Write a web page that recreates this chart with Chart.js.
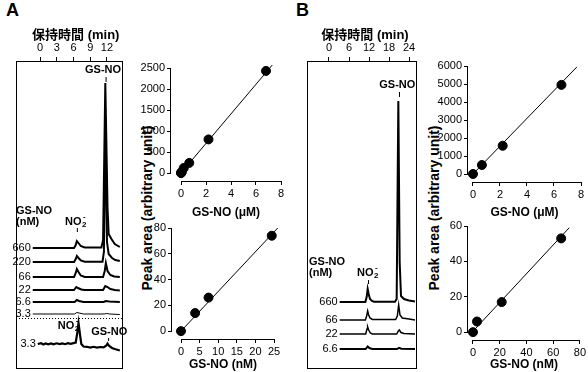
<!DOCTYPE html>
<html>
<head>
<meta charset="utf-8">
<script src="https://cdn.jsdelivr.net/npm/chart.js@4.4.1/dist/chart.umd.min.js"></script>
<style>
body { margin: 0; background: #fff; }
#wrap { position: relative; width: 588px; height: 372px; overflow: hidden; font-family: "Liberation Sans", Arial, sans-serif; color: #000; }
canvas { position: absolute; }
.panel { position: absolute; font-weight: bold; font-size: 18px; }
.ytitle { position: absolute; width: 220px; height: 16px; line-height: 16px; text-align: center; font-weight: bold; font-size: 14px; white-space: nowrap; transform: rotate(-90deg); }
</style>
</head>
<body>
<div id="wrap">
  <div class="panel" style="left:6px;top:0px">A</div>
  <div class="panel" style="left:296px;top:0px">B</div>
  <div class="ytitle" style="left:37px;top:200px">Peak area (arbitrary unit)</div>
  <div class="ytitle" style="left:324px;top:200px">Peak area (arbitrary unit)</div>
  <canvas id="chromA" style="left:8px;top:20px" width="122" height="352"></canvas>
  <canvas id="chromB" style="left:300px;top:20px" width="125" height="352"></canvas>
  <canvas id="calA1" style="left:128px;top:55px" width="162" height="165"></canvas>
  <canvas id="calA2" style="left:128px;top:215px" width="162" height="157"></canvas>
  <canvas id="calB1" style="left:420px;top:55px" width="168" height="165"></canvas>
  <canvas id="calB2" style="left:420px;top:215px" width="168" height="157"></canvas>
</div>
<script>
// ---------- data ----------

// A: chromatograms, retention time (min) vs signal above each trace's own baseline
const chromA_levels = ['660', '220', '66', '22', '6.6', '3.3'];
const chromA_traces = [
  [[-1.3,0],[6.1,0],[6.4,3],[6.6,7],[6.9,5],[7.3,2],[8,0.5],[11.0,0.5],[11.3,8],[11.7,165],[12.1,40],[12.3,14],[12.8,9],[13.4,4],[14.3,1]],
  [[-1.3,0],[6.1,0],[6.4,3],[6.6,6],[6.9,4],[7.3,1.5],[8,0.3],[11.2,0.3],[11.45,10],[11.75,142],[12.0,20],[12.3,8],[12.9,4],[13.5,2],[14.3,1]],
  [[-1.3,0],[6.1,0],[6.4,4],[6.6,8],[6.9,5],[7.3,1.5],[8,0],[11.3,0],[11.6,6],[11.8,14],[12.1,6],[12.6,2],[13.3,0.5],[14.3,0]],
  [[-1.3,0],[6.1,0],[6.5,3],[6.8,2],[7.4,0.5],[8,0],[11.3,0],[11.7,4],[12.1,3],[12.6,1],[13.4,0],[14.3,-0.5]],
  [[-1.3,0],[6.2,0],[6.6,2],[7.0,1],[7.8,0],[11.4,0],[11.8,1],[12.4,0.5],[14.3,0]],
  [[-1.3,0],[6.2,0],[6.6,1.5],[7.0,1],[7.8,0],[11.5,0],[11.9,0.5],[12.5,0],[14.3,-0.5]]
];
// A: expanded 3.3 nM trace below the dotted line
const chromA_zoomLevel = '3.3';
const chromA_zoomTrace = [[-0.4,0],[0.2,0.8],[0.6,-0.5],[1.0,0.6],[1.5,-0.4],[2.0,0.5],[2.4,-0.3],[3.0,0.7],[3.5,0],[4.0,0.6],[4.5,-0.2],
  [5.0,0.8],[5.5,0.2],[6.0,0.9],[6.4,1.5],[6.7,12],[6.9,21],[7.15,10],[7.4,0],[7.8,-2.5],[8.4,-2.8],[9.0,-3.6],[9.6,-2.8],[10.2,-3.6],
  [10.8,-3],[11.4,-3.4],[11.9,-1.5],[12.1,0.5],[12.4,-2],[12.9,-4],[13.4,-5],[14.3,-6.5]];
const chromA_ticks = [0, 3, 6, 9, 12];

// B: chromatograms
const chromB_levels = ['660', '66', '22', '6.6'];
const chromB_traces = [
  [[3.2,0],[10.9,0],[11.3,5],[11.6,13],[11.9,8],[12.3,3],[12.9,1],[13.5,0.3],[19.8,0.3],[20.3,3],[20.8,201],[21.2,40],[21.6,6],[22.5,3],[24,1.5],[25.8,0.5]],
  [[3.2,0],[10.9,0],[11.3,4],[11.6,9],[11.9,5],[12.3,2],[13,0.5],[20,0.5],[20.5,4],[20.9,15],[21.3,5],[22,2],[24,1],[25.8,0]],
  [[3.2,0],[11.0,0],[11.4,5],[11.6,7],[11.9,4],[12.4,1],[13,0],[20.3,0],[20.8,3],[21.1,4],[21.6,1.5],[22.5,0.5],[25.8,0]],
  [[3.2,0],[11.0,0],[11.6,2.5],[12.1,1],[13,0],[20.4,0],[21,1.2],[21.7,0.3],[25.8,0]]
];
const chromB_ticks = [0, 6, 12, 18, 24];

// calibration plots: GS-NO concentration vs peak area
const calA1_x = [0.0033, 0.0066, 0.022, 0.066, 0.22, 0.66, 2.2, 6.8];
const calA1_y = [1, 3, 8, 25, 120, 240, 800, 2430];
const calA1_fitX = [0, 7.3];
const calA1_fitY = [0, 2570];
const calA1_xTicks = [0, 2, 4, 6, 8];
const calA1_yTicks = [0, 500, 1000, 1500, 2000, 2500];

const calA2_x = [0, 3.8, 7.4, 24.4];
const calA2_y = [0, 14, 26, 74];
const calA2_fitX = [0, 26];
const calA2_fitY = [0, 80];
const calA2_xTicks = [0, 5, 10, 15, 20, 25];
const calA2_yTicks = [0, 20, 40, 60, 80];

const calB1_x = [0, 0.66, 2.2, 6.55];
const calB1_y = [0, 500, 1570, 4950];
const calB1_fitX = [0, 7.7];
const calB1_fitY = [0, 5950];
const calB1_xTicks = [0, 2, 4, 6, 8];
const calB1_yTicks = [0, 1000, 2000, 3000, 4000, 5000, 6000];

const calB2_x = [0, 3, 21.5, 66];
const calB2_y = [0, 6, 17, 53];
const calB2_fitX = [0, 72];
const calB2_fitY = [0.5, 59];
const calB2_xTicks = [0, 20, 40, 60, 80];
const calB2_yTicks = [0, 20, 40, 60];

// ---------- drawing ----------
const FONT = '"Liberation Sans", Arial, sans-serif';
const CJK_FONT = '"Liberation Sans", "Noto Sans CJK JP", sans-serif';
Chart.defaults.font.family = FONT;
Chart.defaults.color = '#000';

function pairs(xs, ys) { return xs.map((x, i) => ({ x: x, y: ys[i] })); }

// axes that stop at the first and last tick, like the original figure
const offsetAxes = {
  id: 'offsetAxes',
  afterDraw(chart) {
    const { ctx, chartArea, scales: { x, y } } = chart;
    const xa = x.getPixelForValue(x.ticks[0].value), xb = x.getPixelForValue(x.ticks[x.ticks.length - 1].value);
    const ya = y.getPixelForValue(y.ticks[0].value), yb = y.getPixelForValue(y.ticks[y.ticks.length - 1].value);
    ctx.save();
    ctx.strokeStyle = '#000';
    ctx.lineWidth = 1;
    ctx.beginPath();
    ctx.moveTo(xa, chartArea.bottom + 0.5); ctx.lineTo(xb, chartArea.bottom + 0.5);
    ctx.moveTo(chartArea.left - 0.5, ya); ctx.lineTo(chartArea.left - 0.5, yb);
    ctx.stroke();
    ctx.restore();
  }
};

function calChart(id, xs, ys, fx, fy, xTicks, yTicks, xTitle, lay) {
  new Chart(document.getElementById(id), {
    type: 'scatter',
    data: {
      datasets: [
        { data: pairs(fx, fy), showLine: true, borderColor: '#000', borderWidth: 1, pointRadius: 0, clip: false },
        { data: pairs(xs, ys), pointRadius: 4.5, backgroundColor: '#000', borderColor: '#000', clip: false }
      ]
    },
    options: {
      responsive: false, animation: false, devicePixelRatio: 1,
      layout: { padding: { top: lay.top, right: lay.right, left: 0, bottom: 0 } },
      plugins: { legend: { display: false }, tooltip: { enabled: false } },
      scales: {
        x: {
          type: 'linear', min: lay.xmin, max: lay.xmax,
          afterBuildTicks: s => { s.ticks = xTicks.map(v => ({ value: v })); },
          afterFit: s => { s.height = lay.xh; },
          border: { display: false },
          grid: { drawOnChartArea: false, drawTicks: true, tickLength: 4, color: '#000' },
          ticks: { font: { size: 11 }, padding: 2, maxRotation: 0, callback: v => String(v) },
          title: { display: true, text: xTitle, font: { size: 12, weight: 'bold' }, padding: { top: 2, bottom: 0 } }
        },
        y: {
          type: 'linear', min: lay.ymin, max: lay.ymax,
          afterBuildTicks: s => { s.ticks = yTicks.map(v => ({ value: v })); },
          afterFit: s => { s.width = lay.yw; },
          border: { display: false },
          grid: { drawOnChartArea: false, drawTicks: true, tickLength: 4, color: '#000' },
          ticks: { font: { size: 11 }, padding: 2, callback: v => String(v) }
        }
      }
    },
    plugins: [offsetAxes]
  });
}

calChart('calA1', calA1_x, calA1_y, calA1_fitX, calA1_fitY, calA1_xTicks, calA1_yTicks, 'GS-NO (\u03bcM)',
  { top: 13, right: 9, xh: 39, yw: 43, xmin: -0.8, xmax: 8, ymin: -190, ymax: 2500 });
calChart('calA2', calA2_x, calA2_y, calA2_fitX, calA2_fitY, calA2_xTicks, calA2_yTicks, 'GS-NO (nM)',
  { top: 13, right: 16, xh: 33, yw: 44, xmin: -2.42, xmax: 25, ymin: -6.1, ymax: 80 });
calChart('calB1', calB1_x, calB1_y, calB1_fitX, calB1_fitY, calB1_xTicks, calB1_yTicks, 'GS-NO (\u03bcM)',
  { top: 11, right: 7, xh: 38, yw: 48, xmin: -0.37, xmax: 8, ymin: -444, ymax: 6000 });
calChart('calB2', calB2_x, calB2_y, calB2_fitX, calB2_fitY, calB2_xTicks, calB2_yTicks, 'GS-NO (nM)',
  { top: 11, right: 8, xh: 32, yw: 48, xmin: -3.74, xmax: 80, ymin: -4.44, ymax: 60 });

// NO2- with stacked sub/superscript
function drawNO2(ctx, cx, cy) {
  ctx.font = 'bold 11px ' + FONT;
  const w = ctx.measureText('NO').width;
  const x0 = cx - (w + 6) / 2;
  ctx.textAlign = 'left';
  ctx.textBaseline = 'middle';
  ctx.fillText('NO', x0, cy);
  ctx.font = 'bold 8px ' + FONT;
  ctx.fillText('2', x0 + w + 0.5, cy + 3);
  ctx.fillText('-', x0 + w + 1.5, cy - 5);
}

// frame, axis title, trace labels and peak labels of a chromatogram panel
const chromDecor = {
  id: 'chromDecor',
  afterDraw(chart) {
    const { ctx, chartArea: a, scales: { x, y } } = chart;
    const o = chart.options.plugins.chromDecor;
    ctx.save();
    ctx.strokeStyle = '#000';
    ctx.fillStyle = '#000';
    ctx.lineWidth = 1;
    ctx.strokeRect(a.left + 0.5, a.top + 0.5, a.right - a.left - 1, a.bottom - a.top - 1);
    // axis title, centred over the tick range
    ctx.font = 'bold 13px ' + CJK_FONT;
    ctx.textAlign = 'center';
    ctx.textBaseline = 'middle';
    ctx.fillText('\u4fdd\u6301\u6642\u9593 (min)', x.getPixelForValue(o.titleT), a.top - 26);
    if (o.dotted != null) {
      ctx.setLineDash([1, 2]);
      ctx.beginPath();
      ctx.moveTo(a.left, y.getPixelForValue(o.dotted) + 0.5);
      ctx.lineTo(a.right, y.getPixelForValue(o.dotted) + 0.5);
      ctx.stroke();
      ctx.setLineDash([]);
    }
    // concentration label left of each trace
    ctx.font = '11px ' + FONT;
    ctx.textAlign = 'right';
    ctx.textBaseline = 'middle';
    chart.data.datasets.forEach(ds => {
      const p = ds.data[0];
      ctx.fillText(ds.label, x.getPixelForValue(p.x) - 2, y.getPixelForValue(p.y));
    });
    // peak names with small marker line
    o.notes.forEach(n => {
      const px = x.getPixelForValue(n.t), py = y.getPixelForValue(n.v);
      if (n.text === 'NO2') {
        drawNO2(ctx, px, py);
      } else {
        ctx.font = 'bold 11px ' + FONT;
        ctx.textAlign = n.align || 'center';
        ctx.textBaseline = 'middle';
        ctx.fillText(n.text, px, py);
      }
      if (n.mark) {
        ctx.beginPath();
        ctx.moveTo(x.getPixelForValue(n.mark[0]) + 0.5, y.getPixelForValue(n.mark[1]));
        ctx.lineTo(x.getPixelForValue(n.mark[0]) + 0.5, y.getPixelForValue(n.mark[2]));
        ctx.stroke();
      }
    });
    ctx.restore();
  }
};

function chromChart(id, levels, traces, offsets, widths, ticks, lay, extra) {
  const datasets = traces.map((tr, i) => ({
    label: levels[i],
    data: tr.map(p => ({ x: p[0], y: p[1] + offsets[i] })),
    borderColor: '#000', borderWidth: widths[i], pointRadius: 0, tension: 0
  }));
  new Chart(document.getElementById(id), {
    type: 'line',
    data: { datasets: datasets },
    options: {
      responsive: false, animation: false, devicePixelRatio: 1,
      layout: { padding: { top: lay.top, left: lay.left, right: lay.right, bottom: lay.bottom } },
      plugins: { legend: { display: false }, tooltip: { enabled: false }, chromDecor: extra },
      scales: {
        x: {
          type: 'linear', position: 'top', min: lay.xmin, max: lay.xmax,
          afterBuildTicks: s => { s.ticks = ticks.map(v => ({ value: v })); },
          afterFit: s => { s.height = lay.xh; },
          border: { display: false },
          grid: { drawOnChartArea: false, drawTicks: true, tickLength: 4, color: '#000' },
          ticks: { font: { size: 11 }, padding: 2, maxRotation: 0 }
        },
        y: { type: 'linear', display: false, min: 0, max: lay.ymax }
      }
    },
    plugins: [chromDecor]
  });
}

// panel A: trace baselines, counted up from the frame bottom
chromChart('chromA',
  chromA_levels.concat([chromA_zoomLevel]),
  chromA_traces.concat([chromA_zoomTrace]),
  [121, 107, 92, 79, 67, 55, 25],
  [2, 2, 2, 2, 2, 1, 2.2],
  chromA_ticks,
  { top: 4, left: 8, right: 7, bottom: 3, xh: 37, xmin: -4.3, xmax: 14.87, ymax: 308 },
  {
    titleT: 6.4,
    dotted: 51,
    notes: [
      { text: 'GS-NO', t: 11.3, v: 299, mark: [11.75, 292, 287] },
      { text: 'GS-NO', t: -4.3, v: 158, align: 'left' },
      { text: '(nM)', t: -4.3, v: 147, align: 'left' },
      { text: 'NO2', t: 6.5, v: 147, mark: [6.6, 141, 137] },
      { text: 'NO2', t: 5.2, v: 43 },
      { text: 'GS-NO', t: 12.4, v: 37, mark: [12.2, 31, 28] }
    ]
  });

chromChart('chromB',
  chromB_levels, chromB_traces,
  [67, 49, 35, 20],
  [2, 1.5, 1.5, 2],
  chromB_ticks,
  { top: 4, left: 7, right: 8, bottom: 3, xh: 37, xmin: -6.6, xmax: 26.4, ymax: 308 },
  {
    titleT: 10.8,
    dotted: null,
    notes: [
      { text: 'GS-NO', t: 20.5, v: 284, mark: [21.0, 277, 272] },
      { text: 'GS-NO', t: -6.0, v: 107, align: 'left' },
      { text: '(nM)', t: -6.0, v: 96, align: 'left' },
      { text: 'NO2', t: 11.8, v: 96, mark: [11.7, 89, 85] }
    ]
  });
</script>
</body>
</html>
